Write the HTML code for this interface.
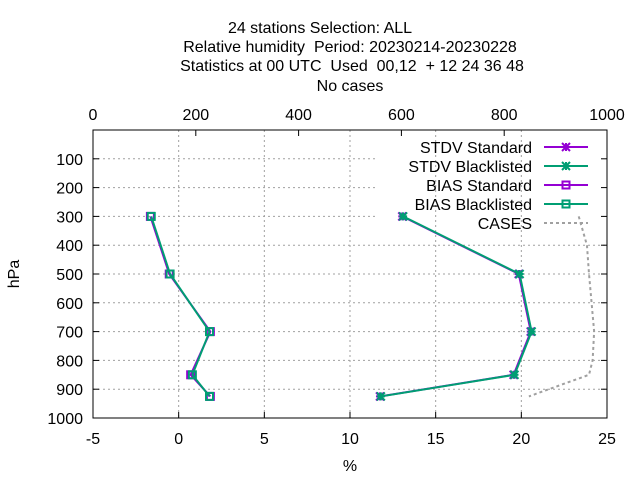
<!DOCTYPE html>
<html><head><meta charset="utf-8"><style>
body{margin:0;background:#fff;}
svg{font-family:"Liberation Sans",sans-serif;}
svg text{white-space:pre;}
</style></head><body>
<svg id="c" width="640" height="480" viewBox="0 0 640 480" xml:space="preserve">
<g font-size="16" fill="#000" text-anchor="middle">
<text x="320" y="33">24 stations Selection: ALL</text>
<text x="350" y="52">Relative humidity  Period: 20230214-20230228</text>
<text x="352" y="71">Statistics at 00 UTC  Used  00,12  + 12 24 36 48</text>
<text x="350" y="91">No cases</text>
</g>
</svg>
<script>
const levels=[300,500,700,850,925];
const stdvStd=[13.05,19.85,20.55,19.55,11.75];
const stdvBl=[13.1,19.9,20.6,19.6,11.8];
const biasStd=[-1.65,-0.55,1.85,0.7,1.85];
const biasBl=[-1.6,-0.5,1.8,0.8,1.8];
const caseLevels=[300,400,500,600,700,800,850,925];
const cases=[945,961,965,970,975,972,965,848];
const xTicks=[-5,0,5,10,15,20,25];
const x2Ticks=[0,200,400,600,800,1000];
const yTicks=[100,200,300,400,500,600,700,800,900,1000];

const L=93,R=607,T=130,B=418;
const X=v=>L+(v+5)/30*(R-L);
const X2=v=>L+v/1000*(R-L);
const Y=p=>T+p/1000*(B-T);
const svg=document.getElementById('c');
const NS='http://www.w3.org/2000/svg';
function mk(tag,a,parent){const e=document.createElementNS(NS,tag);for(const k in a)e.setAttribute(k,a[k]);(parent||svg).appendChild(e);return e;}

for(const v of xTicks.slice(1,-1)){const e=mk('line',{x1:X(v),x2:X(v),y1:T,y2:B,stroke:'#a0a0a0','stroke-dasharray':'2,3'});

}
for(const p of yTicks.slice(0,-1)){const e=mk('line',{x1:L,x2:(p<=300?375:R),y1:Y(p),y2:Y(p),stroke:'#a0a0a0','stroke-dasharray':'2,3'});

}
const fr=mk('rect',{x:L,y:T,width:R-L,height:B-T,fill:'none',stroke:'#000'});


for(const v of xTicks){mk('line',{x1:X(v),x2:X(v),y1:B,y2:B-6,stroke:'#000'});
const t=mk('text',{x:X(v),y:B+26,'font-size':16,'text-anchor':'middle'});t.textContent=v;

}
for(const v of x2Ticks){mk('line',{x1:X2(v),x2:X2(v),y1:T,y2:T+6,stroke:'#000'});
const t=mk('text',{x:X2(v),y:T-10,'font-size':16,'text-anchor':'middle'});t.textContent=v;

}
for(const p of yTicks){mk('line',{x1:L,x2:L+6,y1:Y(p),y2:Y(p),stroke:'#000'});mk('line',{x1:R,x2:R-6,y1:Y(p),y2:Y(p),stroke:'#000'});
const t=mk('text',{x:L-10,y:Y(p)+6,'font-size':16,'text-anchor':'end'});t.textContent=p;

}
let t=mk('text',{x:350,y:471,'font-size':16,'text-anchor':'middle'});t.textContent='%';


t=mk('text',{x:19,y:274,'font-size':16,'text-anchor':'middle',transform:'rotate(-90 19 274)'});t.textContent='hPa';



function cross(g,x,y,c){mk('path',{d:`M${x-4} ${y-4}L${x+4} ${y+4}M${x-4} ${y+4}L${x+4} ${y-4}M${x-4} ${y}L${x+4} ${y}M${x} ${y-4}L${x} ${y+4}`,stroke:c,'stroke-width':2},g);}
function box(g,x,y,c){mk('rect',{x:x-3.5,y:y-3.5,width:7,height:7,fill:'none',stroke:c,'stroke-width':2},g);}
function series(vals,color,marker,name){const g=mk('g',{});


mk('polyline',{points:vals.map((v,i)=>X(v)+','+Y(levels[i])).join(' '),fill:'none',stroke:color,'stroke-width':2},g);
vals.forEach((v,i)=>marker(g,X(v),Y(levels[i]),color));}
const P='#9400d3',G='#009e73';
series(stdvStd,P,cross,'stdv-standard-series');
series(biasStd,P,box,'bias-standard-series');
series(stdvBl,G,cross,'stdv-blacklisted-series');
series(biasBl,G,box,'bias-blacklisted-series');
const cl=mk('polyline',{points:cases.map((v,i)=>X2(v)+','+Y(caseLevels[i])).join(' '),fill:'none',stroke:'#a0a0a0','stroke-width':2,'stroke-dasharray':'3,3'});



const leg=[['STDV Standard',P,cross],['STDV Blacklisted',G,cross],['BIAS Standard',P,box],['BIAS Blacklisted',G,box],['CASES','#a0a0a0',null]];
leg.forEach((e,i)=>{const y=147+i*19;const g=mk('g',{});


const tx=mk('text',{x:532,y:y+6,'font-size':16,'text-anchor':'end'},g);tx.textContent=e[0];
if(e[2]){mk('line',{x1:544,x2:588,y1:y,y2:y,stroke:e[1],'stroke-width':2},g);e[2](g,566,y,e[1]);}
else mk('line',{x1:544,x2:588,y1:y,y2:y,stroke:e[1],'stroke-width':2,'stroke-dasharray':'3,3'},g);});
</script>
</body></html>
